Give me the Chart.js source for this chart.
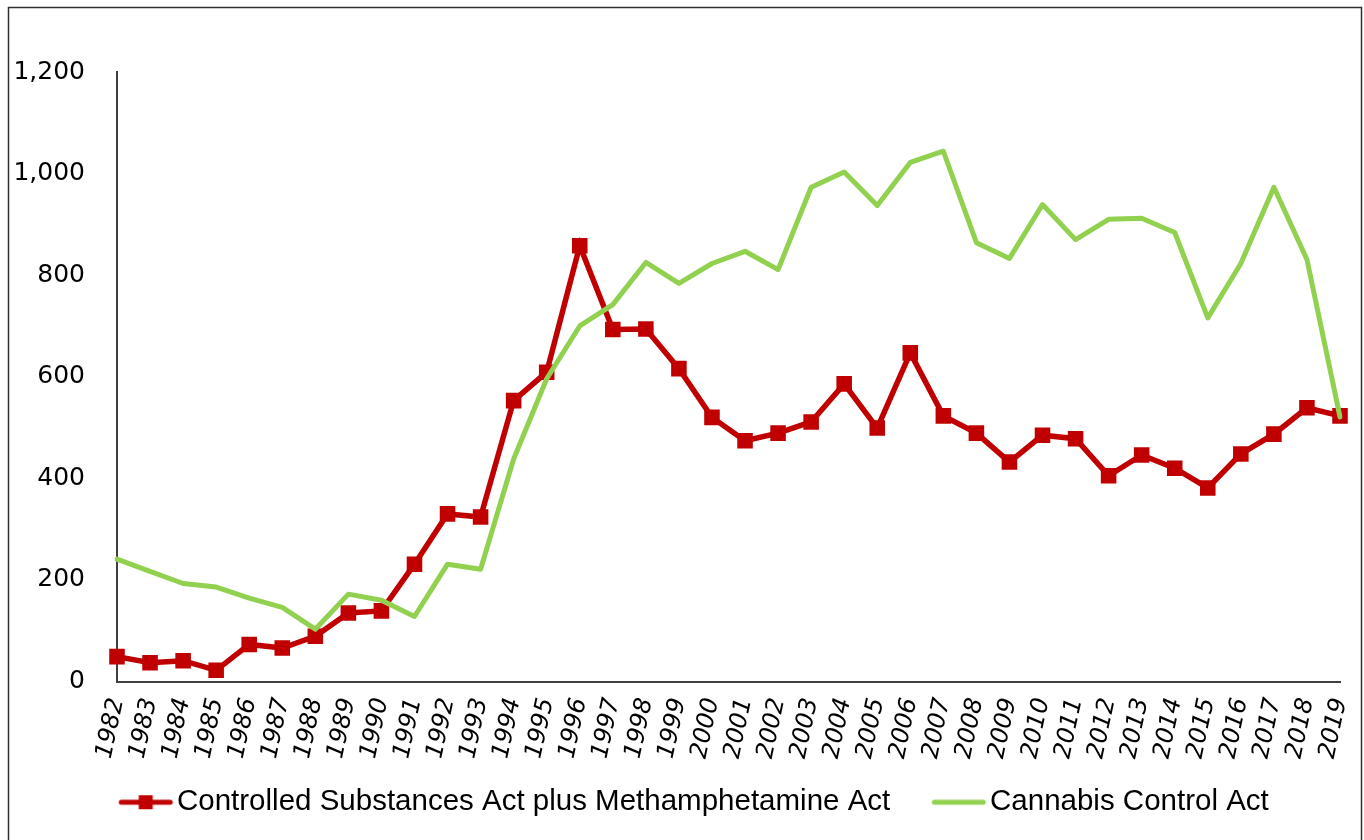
<!DOCTYPE html>
<html>
<head>
<meta charset="utf-8">
<script src="https://cdn.jsdelivr.net/npm/chart.js@4/dist/chart.umd.min.js"></script>
<style>
  html, body { margin: 0; padding: 0; background: #ffffff; }
  #wrap { position: relative; width: 1364px; height: 840px; }
</style>
</head>
<body>
<div id="wrap"><canvas id="c" width="1364" height="840"></canvas></div>
<script>
const years = ['1982','1983','1984','1985','1986','1987','1988','1989','1990','1991','1992','1993','1994','1995','1996','1997','1998','1999','2000','2001','2002','2003','2004','2005','2006','2007','2008','2009','2010','2011','2012','2013','2014','2015','2016','2017','2018','2019'];
const controlledSubstances = [49,37,41,22,73,66,89,135,139,231,330,324,553,609,858,693,694,616,520,474,489,511,586,499,647,523,489,432,485,478,405,446,420,381,448,487,539,523];
const cannabisControl = [241,217,193,186,164,146,103,172,160,128,231,221,438,596,700,742,825,784,823,847,811,973,1003,937,1022,1044,864,833,939,870,910,912,884,716,823,973,831,521];
const yTickValues = [0,200,400,600,800,1000,1200];
const seriesNames = ['Controlled Substances Act plus Methamphetamine Act', 'Cannabis Control Act'];

const RED = '#C00000';
const GREEN = '#92D050';
const LEGEND_FS = 29.5;
const ICON_LEN = 55;
const ITEM_GAP_EXTRA = 32;
const PSW = Math.round(ICON_LEN + 3 - LEGEND_FS / 2 + ITEM_GAP_EXTRA);

function makeIcon(color, square) {
  const W = Math.round(PSW + LEGEND_FS - 6);
  const c = document.createElement('canvas');
  c.width = W; c.height = 20;
  const g = c.getContext('2d');
  const x1 = W - 1, x0 = x1 - ICON_LEN;
  g.strokeStyle = color; g.lineWidth = 5; g.lineCap = 'round';
  g.beginPath(); g.moveTo(x0 + 3, 10); g.lineTo(x1 - 3, 10); g.stroke();
  if (square) { g.fillStyle = color; g.fillRect((x0 + x1) / 2 - 7, 3, 14, 14); }
  return c;
}
const icons = [makeIcon(RED, true), makeIcon(GREEN, false)];

const borderPlugin = {
  id: 'outerBorder',
  beforeDraw(chart) {
    const ctx = chart.ctx;
    ctx.save();
    ctx.strokeStyle = '#303030';
    ctx.lineWidth = 1.5;
    ctx.beginPath();
    ctx.moveTo(8.5, 845); ctx.lineTo(8.5, 7.5); ctx.lineTo(1361.5, 7.5); ctx.lineTo(1361.5, 845);
    ctx.stroke();
    ctx.restore();
  }
};

new Chart(document.getElementById('c'), {
  type: 'line',
  data: {
    labels: years,
    datasets: [
      {
        label: seriesNames[0],
        data: controlledSubstances,
        borderColor: RED,
        backgroundColor: RED,
        borderWidth: 5.5,
        pointStyle: 'rect',
        pointRadius: 11,
        pointBorderWidth: 0,
        pointBackgroundColor: RED,
        tension: 0,
        order: 1
      },
      {
        label: seriesNames[1],
        data: cannabisControl,
        borderColor: GREEN,
        backgroundColor: GREEN,
        borderWidth: 5,
        borderCapStyle: 'round',
        borderJoinStyle: 'round',
        pointRadius: 0,
        tension: 0,
        order: 0
      }
    ]
  },
  options: {
    responsive: false,
    animation: false,
    devicePixelRatio: 1,
    layout: { padding: { top: 72, right: 24, left: 16, bottom: 13 } },
    plugins: {
      tooltip: { enabled: false },
      legend: {
        position: 'bottom',
        labels: {
          usePointStyle: true,
          pointStyleWidth: PSW,
          padding: 10,
          color: '#000000',
          font: { family: '"Liberation Sans Narrow", "Liberation Sans", sans-serif', size: LEGEND_FS },
          generateLabels(chart) {
            return chart.data.datasets.map((ds, i) => ({
              text: ds.label,
              fillStyle: ds.borderColor,
              strokeStyle: ds.borderColor,
              lineWidth: 0,
              pointStyle: icons[i],
              datasetIndex: i,
              hidden: false
            }));
          }
        }
      }
    },
    scales: {
      x: {
        type: 'category',
        offset: false,
        grid: { display: false, drawTicks: false },
        border: { display: true, color: '#404040', width: 2 },
        ticks: {
          autoSkip: false,
          minRotation: 78,
          maxRotation: 78,
          padding: 14,
          color: '#000000',
          font: { family: '"DejaVu Sans", sans-serif', size: 24, style: 'italic' }
        },
        afterFit(scale) { scale.height = 96; scale.paddingLeft = 0; scale.paddingRight = 0; }
      },
      y: {
        min: 0,
        max: 1200,
        grid: { display: false, drawTicks: false },
        border: { display: true, color: '#404040', width: 2 },
        afterBuildTicks(scale) { scale.ticks = yTickValues.map(v => ({ value: v })); },
        ticks: {
          padding: 32,
          color: '#000000',
          font: { family: '"DejaVu Sans", sans-serif', size: 25 },
          callback: (v) => Number(v).toLocaleString('en-US')
        },
        afterFit(scale) { scale.width = 101; scale.paddingTop = 0; scale.paddingBottom = 0; }
      }
    }
  },
  plugins: [borderPlugin]
});
</script>
</body>
</html>
